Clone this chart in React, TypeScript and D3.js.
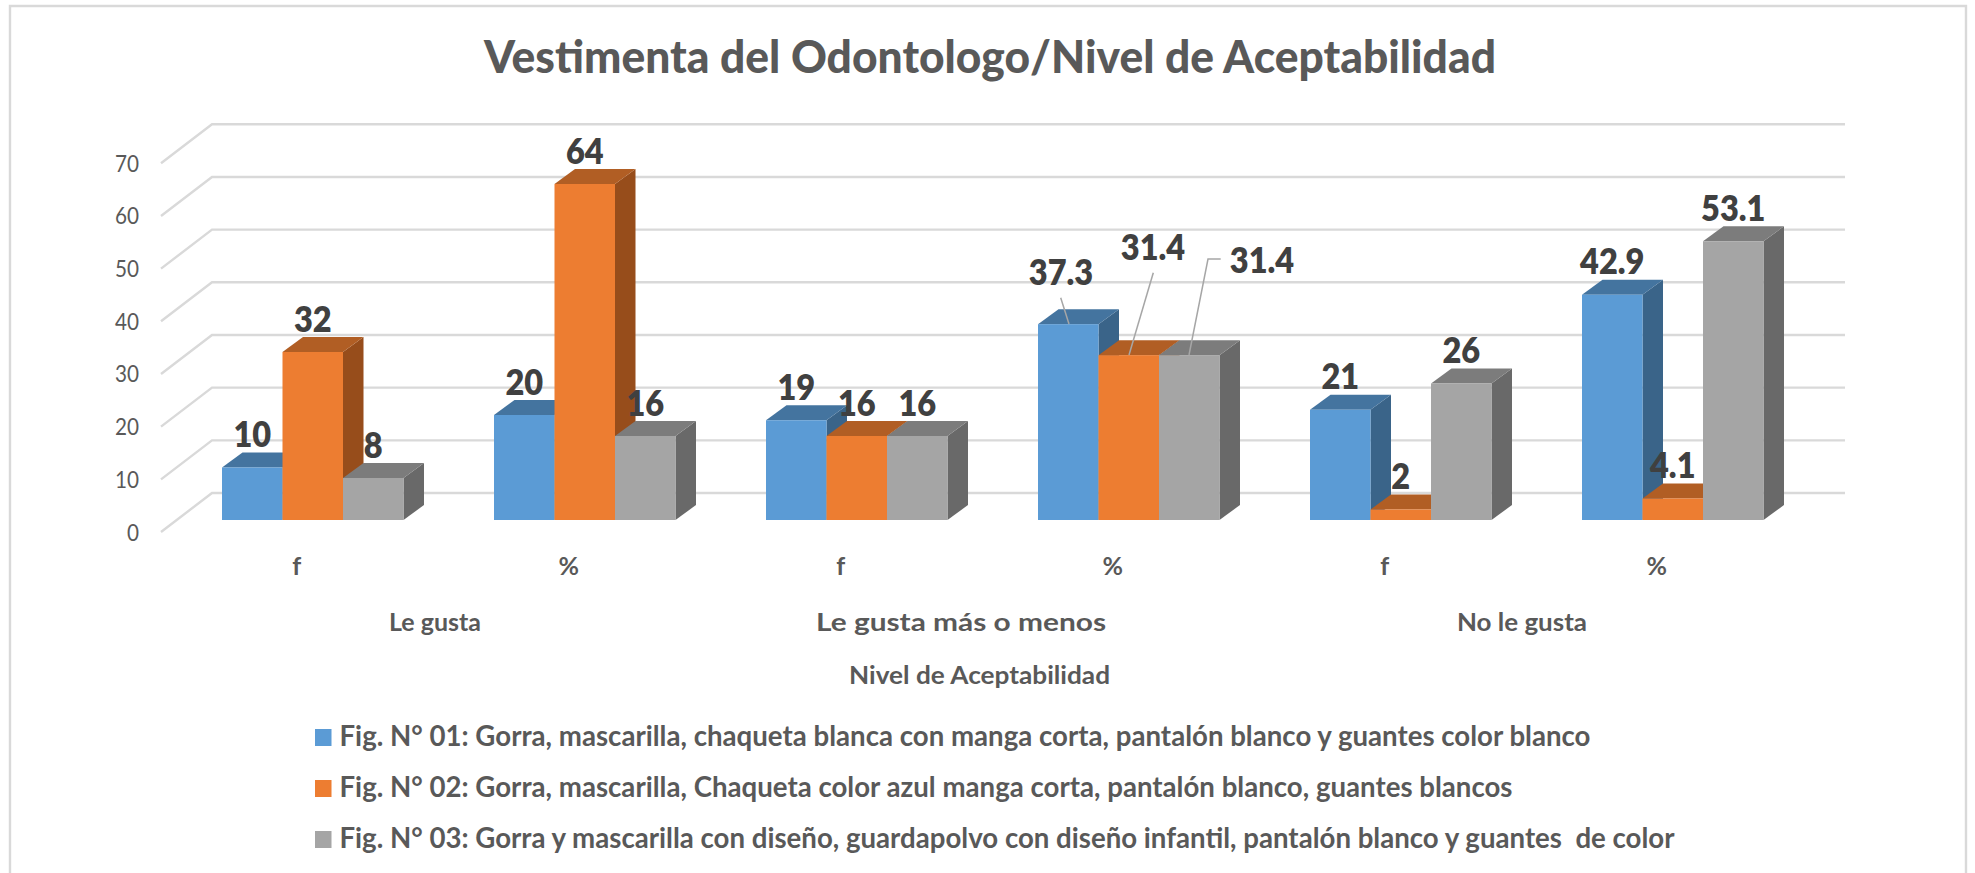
import React from "react";
import * as d3 from "d3";

const title = "Vestimenta del Odontologo/Nivel de Aceptabilidad";
const axisTitle = "Nivel de Aceptabilidad";
const categories = ["f", "%", "f ", "% ", "f  ", "%  "];
const categoryLabels = ["f", "%", "f", "%", "f", "%"];
const groupLabels = ["Le gusta", "Le gusta más o menos", "No le gusta"];
const yTicks = [0, 10, 20, 30, 40, 50, 60, 70];
const seriesNames = [
  "Fig. N° 01: Gorra, mascarilla, chaqueta blanca con manga corta, pantalón blanco y guantes color blanco",
  "Fig. N° 02: Gorra, mascarilla, Chaqueta color azul manga corta, pantalón blanco, guantes blancos",
  "Fig. N° 03: Gorra y mascarilla con diseño, guardapolvo con diseño infantil, pantalón blanco y guantes  de color",
];
const fig01 = [10, 20, 19, 37.3, 21, 42.9];
const fig02 = [32, 64, 16, 31.4, 2, 4.1];
const fig03 = [8, 16, 16, 31.4, 26, 53.1];
const seriesValues = [fig01, fig02, fig03];

const FONT = "Lato, 'Open Sans', sans-serif";
const front = ["#5B9BD5", "#ED7D31", "#A5A5A5"];
const top = ["#44749F", "#B15E24", "#7C7C7C"];
const side = ["#3A6489", "#974D1B", "#696969"];

const DX = 20.5;
const DY = 15;
const WALL_DX = 51;
const WALL_DY = 39;

const x0 = d3.scaleBand<string>().domain(categories).range([176.75, 1808.75]);
const x1 = d3.scaleBand<number>().domain([0, 1, 2]).range([0, 181.5]);
const pad = (x0.bandwidth() - 181.5) / 2;
const yBar = d3.scaleLinear().domain([0, 70]).range([520, 152.5]);
const yWall = d3.scaleLinear().domain([0, 70]).range([493, 124.3]);

const barX = (c: number, s: number) => (x0(categories[c]) as number) + pad + (x1(s) as number);
const fmt = (v: number) => String(v);

const leaders: Record<string, { lx: number; ly: number; path: string }> = {
  "3-0": { lx: 1061, ly: 272.7, path: "M1060.7,297.7L1069,324" },
  "3-1": { lx: 1153, ly: 247.7, path: "M1153.3,272.7L1129,355" },
  "3-2": { lx: 1262, ly: 260, path: "M1220.7,259L1208,259L1189,355" },
};

const groupCentres = [435, 961, 1522];
const groupWidths = [92, 290, 130];
const legendY = [746, 797, 848];
const legendW = [1251, 1173, 1335];

export default function App() {
  const bw = x1.bandwidth();
  return (
    <svg
      width={1975}
      height={873}
      viewBox="0 0 1975 873"
      style={{ position: "absolute", left: 0, top: 0, background: "#fff" }}
      fontFamily={FONT}
    >
      <path d="M10,873V6H1966V873" fill="none" stroke="#D9D9D9" strokeWidth={2.4} />
      <text x={990} y={73} textAnchor="middle" fontSize={45} fontWeight={900} fill="#595959" textLength={1012} lengthAdjust="spacingAndGlyphs">
        {title}
      </text>

      {yTicks.map((t) => (
        <g key={t}>
          <path
            d={`M${212 - WALL_DX},${yWall(t) + WALL_DY}L212,${yWall(t)}L1845,${yWall(t)}`}
            fill="none"
            stroke="#D9D9D9"
            strokeWidth={2.4}
          />
          <text transform={`translate(139,${yWall(t) + WALL_DY + 8.5}) scale(0.9,1)`} textAnchor="end" fontSize={23} fill="#595959">
            {t}
          </text>
        </g>
      ))}

      {categories.map((c, i) =>
        seriesValues.map((vals, s) => {
          const x = barX(i, s);
          const y = yBar(vals[i]);
          const b = yBar(0);
          return (
            <g key={`${c}-${s}`}>
              <path d={`M${x + bw},${y}l${DX},${-DY}V${b - DY}L${x + bw},${b}Z`} fill={side[s]} />
              <path d={`M${x},${y}l${DX},${-DY}h${bw}l${-DX},${DY}Z`} fill={top[s]} />
              <rect x={x} y={y} width={bw} height={b - y} fill={front[s]} />
            </g>
          );
        })
      )}

      {categories.map((c, i) =>
        seriesValues.map((vals, s) => {
          const key = `${i}-${s}`;
          const l = leaders[key];
          const cx = l ? l.lx : barX(i, s) + bw / 2;
          const cy = l ? l.ly : yBar(vals[i]) - 33;
          return (
            <g key={key}>
              {l && <path d={l.path} fill="none" stroke="#A6A6A6" strokeWidth={1.5} />}
              <text transform={`translate(${cx},${cy + 12.5}) scale(0.93,1)`} textAnchor="middle" fontSize={35} fontWeight={800} fill="#404040">
                {fmt(vals[i])}
              </text>
            </g>
          );
        })
      )}

      {categoryLabels.map((c, i) => (
        <text key={i} x={(x0(categories[i]) as number) + x0.bandwidth() / 2 - 16} y={575} textAnchor="middle" fontSize={25} fontWeight={700} fill="#595959">
          {c}
        </text>
      ))}
      {groupLabels.map((g, i) => (
        <text key={g} x={groupCentres[i]} y={631} textAnchor="middle" fontSize={25} fontWeight={700} fill="#595959" textLength={groupWidths[i]} lengthAdjust="spacingAndGlyphs">
          {g}
        </text>
      ))}
      <text x={979.5} y={684} textAnchor="middle" fontSize={25} fontWeight={700} fill="#595959" textLength={261} lengthAdjust="spacingAndGlyphs">
        {axisTitle}
      </text>

      {seriesNames.map((n, i) => (
        <g key={n}>
          <rect x={315} y={legendY[i] - 17} width={16.5} height={17} fill={front[i]} />
          <text x={339.5} y={legendY[i]} fontSize={28} fontWeight={700} fill="#595959" textLength={legendW[i]} lengthAdjust="spacingAndGlyphs" style={{ whiteSpace: "pre" }}>
            {n}
          </text>
        </g>
      ))}
    </svg>
  );
}
